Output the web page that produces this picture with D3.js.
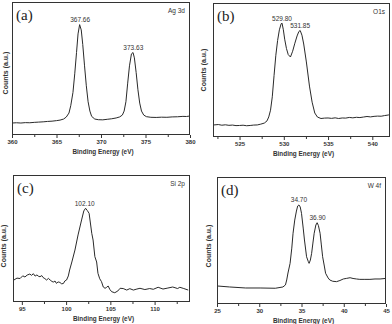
<!DOCTYPE html>
<html>
<meta charset="utf-8">
<head>
<script src="https://d3js.org/d3.v7.min.js"></script>
<title>XPS spectra</title>
<style>
html, body {
	margin: 0;
	padding: 0;
	background: white;
}
svg {
	display: block;
	font-family: 'Liberation Sans', Arial, sans-serif;
}
.frame {
	fill: none;
	stroke: #333;
	stroke-width: 1;
}
.curve {
	fill: none;
	stroke: #2a2a2a;
	stroke-width: 1;
	stroke-linejoin: round;
}
.axis path { display: none; }
.axis line { stroke: #333; }
.axis text {
	font-size: 6px;
	font-weight: bold;
	fill: #333;
	font-family: 'Liberation Sans', Arial, sans-serif;
}
.xtitle, .ytitle {
	font-size: 6.4px;
	font-weight: bold;
	fill: #333;
}
.ytitle { font-size: 7px; }
.tag, .peak {
	font-size: 6.5px;
	fill: #333;
}
.panel-label {
	font-family: 'Liberation Serif', 'Times New Roman', serif;
	font-size: 15px;
	fill: #222;
}
</style>
</head>
<body>
<svg width="392" height="324"></svg>
<script>
// (a) Ag 3d
var agEnergy = [360.0, 360.5, 361.0, 361.5, 362.0, 362.5, 363.0, 363.5, 364.0, 364.5, 365.0, 365.4, 365.8, 366.1, 366.4, 366.6, 366.85, 367.05, 367.25, 367.42, 367.6, 367.78, 367.95, 368.15, 368.35, 368.55, 368.75, 368.95, 369.3, 369.7, 370.2, 370.7, 371.2, 371.7, 372.1, 372.4, 372.6, 372.8, 373.0, 373.2, 373.42, 373.6, 373.75, 373.95, 374.15, 374.35, 374.55, 374.8, 375.1, 375.6, 376.2, 376.8, 377.4, 378.0, 378.6, 379.2, 379.6, 380.0];
var agCounts = [9.0, 9.2, 9.0, 9.3, 9.2, 9.5, 9.7, 9.9, 10.2, 10.4, 10.8, 11.2, 12.0, 13.5, 16.5, 22, 32, 46, 62, 76, 83, 79, 68, 52, 37, 25, 18, 14, 12.0, 11.5, 11.4, 11.8, 12.2, 12.8, 13.6, 15, 18, 25, 39, 52, 61, 62, 58, 47, 34, 24, 18, 15, 13.8, 13.3, 13.2, 13.4, 13.3, 13.6, 13.7, 14.0, 13.9, 14.3];
var agPeaks = [367.66, 373.63];

// (b) O1s
var oEnergy = [522.1, 522.6, 523.0, 523.4, 523.8, 524.2, 524.6, 525.0, 525.4, 525.8, 526.2, 526.6, 527.0, 527.4, 527.8, 528.1, 528.3, 528.5, 528.7, 528.9, 529.1, 529.3, 529.5, 529.7, 529.8, 529.95, 530.1, 530.3, 530.5, 530.75, 531.0, 531.25, 531.5, 531.7, 531.85, 532.05, 532.25, 532.55, 532.9, 533.2, 533.5, 533.8, 534.2, 534.6, 535.0, 535.4, 535.8, 536.2, 536.6, 537.0, 537.4, 537.8, 538.2, 538.6, 539.0, 539.4, 539.8, 540.2, 540.6, 541.0, 541.4, 541.8, 542.0];
var oCounts = [9.0, 9.3, 8.8, 9.1, 8.7, 8.9, 8.5, 8.6, 8.8, 8.4, 8.6, 8.9, 9.0, 9.6, 10.4, 12.0, 15.0, 20.0, 30, 46, 61, 72, 80, 84.5, 85, 80, 73, 66, 61.5, 59.7, 64, 70, 75.4, 78.7, 79.5, 76, 69.4, 56, 38, 26, 17.9, 14.9, 13.8, 14.1, 14.2, 13.9, 14.3, 13.8, 14.2, 14.1, 14.6, 14.3, 14.7, 14.5, 14.9, 15.3, 15.0, 15.4, 15.6, 15.5, 16.0, 16.4, 16.8];
var oPeaks = [529.80, 531.85];

// (c) Si 2p
var siEnergy = [94.1, 94.45, 94.8, 95.1, 95.35, 95.6, 95.9, 96.1, 96.3, 96.5, 96.7, 96.9, 97.05, 97.25, 97.4, 97.6, 97.8, 98.0, 98.2, 98.4, 98.55, 98.75, 98.9, 99.1, 99.3, 99.5, 99.7, 99.85, 100.05, 100.25, 100.4, 100.65, 101.0, 101.35, 101.75, 102.0, 102.2, 102.4, 102.6, 102.9, 103.05, 103.25, 103.45, 103.6, 103.8, 104.0, 104.2, 104.4, 104.55, 104.75, 104.95, 105.15, 105.5, 105.85, 106.1, 106.45, 106.85, 107.2, 107.6, 108.0, 108.35, 108.9, 109.45, 109.85, 110.4, 110.95, 111.5, 112.05, 112.6, 112.85, 113.3, 113.8];
var siCounts = [17.3, 18.8, 18.5, 20.6, 19.7, 21.2, 22, 21.0, 22.3, 20.4, 21.3, 20.2, 19.9, 20.8, 19.3, 18.4, 17.3, 18.6, 17.3, 16.2, 15.7, 16.5, 14.7, 15.8, 15.4, 14.3, 14.6, 16.5, 17.3, 20.5, 25.2, 31.5, 40.9, 52.8, 64.6, 71.7, 73.8, 72, 69.8, 54.1, 48.8, 35.7, 31.5, 22.6, 18.3, 16, 11.8, 10.8, 11.4, 12.6, 9.8, 8.1, 7.3, 8.7, 10.8, 10.6, 9.4, 10.5, 9.4, 10.2, 10.8, 9.8, 10.6, 10, 11.6, 10.2, 11, 11.8, 10.6, 11.6, 10.6, 9.4];
var siPeaks = [102.10];

// (d) W 4f
var wEnergy = [25.0, 26.5, 28.4, 30.1, 31.9, 32.8, 33.1, 33.25, 33.4, 33.65, 33.85, 34.0, 34.2, 34.4, 34.55, 34.7, 34.85, 35.0, 35.2, 35.35, 35.5, 35.6, 35.8, 35.9, 36.05, 36.2, 36.35, 36.5, 36.7, 36.85, 37.0, 37.2, 37.35, 37.5, 37.7, 37.85, 38.15, 38.35, 38.7, 39.15, 39.55, 39.95, 40.35, 40.75, 41.1, 41.5, 41.9, 42.5, 43.1, 43.7, 44.3, 44.9];
var wCounts = [14.2, 13.4, 12.6, 12.6, 12.4, 13.4, 15, 18.9, 24.4, 32, 44, 55.7, 66.1, 73.2, 77.2, 78, 76.4, 71.4, 59.8, 50.4, 42.5, 37.2, 33.5, 32, 34.6, 39.9, 48, 55.7, 62.2, 64, 61.8, 55.7, 46.5, 37.2, 29.9, 24.2, 20.5, 18.9, 17.9, 17.6, 18.5, 19.7, 20.2, 20.7, 20.1, 19.7, 19.4, 19.4, 19.4, 19.7, 19.7, 20.1];
var wPeaks = [34.70, 36.90];

var panels = [
	{label: "(a)", tag: "Ag 3d", energy: agEnergy, counts: agCounts, peaks: agPeaks,
	 domain: [360, 380], major: [360, 365, 370, 375, 380], minor: [362.5, 367.5, 372.5, 377.5],
	 box: {l: 12, t: 2, r: 190, b: 135}, ytx: 7.5, yty: 73},
	{label: "(b)", tag: "O1s", energy: oEnergy, counts: oCounts, peaks: oPeaks,
	 domain: [522, 542], major: [525, 530, 535, 540], minor: [522.5, 527.5, 532.5, 537.5],
	 box: {l: 213, t: 3, r: 390, b: 137}, ytx: 205.5, yty: 70},
	{label: "(c)", tag: "Si 2p", energy: siEnergy, counts: siCounts, peaks: siPeaks,
	 domain: [94, 114], major: [95, 100, 105, 110], minor: [97.5, 102.5, 107.5, 112.5],
	 box: {l: 13, t: 175, r: 190, b: 302}, ytx: 6, yty: 246},
	{label: "(d)", tag: "W 4f", energy: wEnergy, counts: wCounts, peaks: wPeaks,
	 domain: [25, 45], major: [25, 30, 35, 40, 45], minor: [27.5, 32.5, 37.5, 42.5],
	 box: {l: 217, t: 177, r: 386, b: 304}, ytx: 210.5, yty: 246}
];

var svg = d3.select("svg");

panels.forEach(function(p) {
	var b = p.box;
	var x = d3.scaleLinear().domain(p.domain).range([b.l, b.r]);
	var y = d3.scaleLinear().domain([0, 100]).range([b.b, b.t]);
	var g = svg.append("g");

	// spectrum
	var pts = p.energy.map(function(e, i) { return [e, p.counts[i]]; });
	g.append("path")
		.attr("class", "curve")
		.attr("d", d3.line()
			.x(function(d) { return x(d[0]); })
			.y(function(d) { return y(d[1]); })(pts));

	// frame
	g.append("rect")
		.attr("class", "frame")
		.attr("x", b.l + 0.5)
		.attr("y", b.t + 0.5)
		.attr("width", b.r - b.l - 1)
		.attr("height", b.b - b.t - 1);

	// axis ticks
	g.append("g")
		.attr("class", "axis")
		.attr("transform", "translate(0," + b.b + ")")
		.call(d3.axisBottom(x).tickValues(p.major).tickSize(3).tickPadding(1.5)
			.tickFormat(d3.format("d")));
	g.append("g")
		.attr("class", "axis")
		.attr("transform", "translate(0," + b.b + ")")
		.call(d3.axisBottom(x).tickValues(p.minor).tickSize(2).tickFormat(""));

	g.append("text")
		.attr("class", "xtitle")
		.attr("x", (b.l + b.r) / 2 + 2)
		.attr("y", b.b + 19)
		.attr("text-anchor", "middle")
		.text("Binding Energy (eV)");

	g.append("text")
		.attr("class", "ytitle")
		.attr("transform", "translate(" + p.ytx + "," + p.yty + ") rotate(-90)")
		.attr("text-anchor", "middle")
		.text("Counts (a.u.)");

	g.append("text")
		.attr("class", "panel-label")
		.attr("x", b.l + 4)
		.attr("y", b.t + 18)
		.text(p.label);

	g.append("text")
		.attr("class", "tag")
		.attr("x", b.r - 5)
		.attr("y", b.t + 11)
		.attr("text-anchor", "end")
		.text(p.tag);

	// peak positions
	p.peaks.forEach(function(pk) {
		var top = d3.max(pts.filter(function(d) { return Math.abs(d[0] - pk) < 0.25; }),
			function(d) { return d[1]; });
		g.append("text")
			.attr("class", "peak")
			.attr("x", x(pk))
			.attr("y", y(top) - 2.5)
			.attr("text-anchor", "middle")
			.text(pk.toFixed(2));
	});
});
</script>
</body>
</html>
